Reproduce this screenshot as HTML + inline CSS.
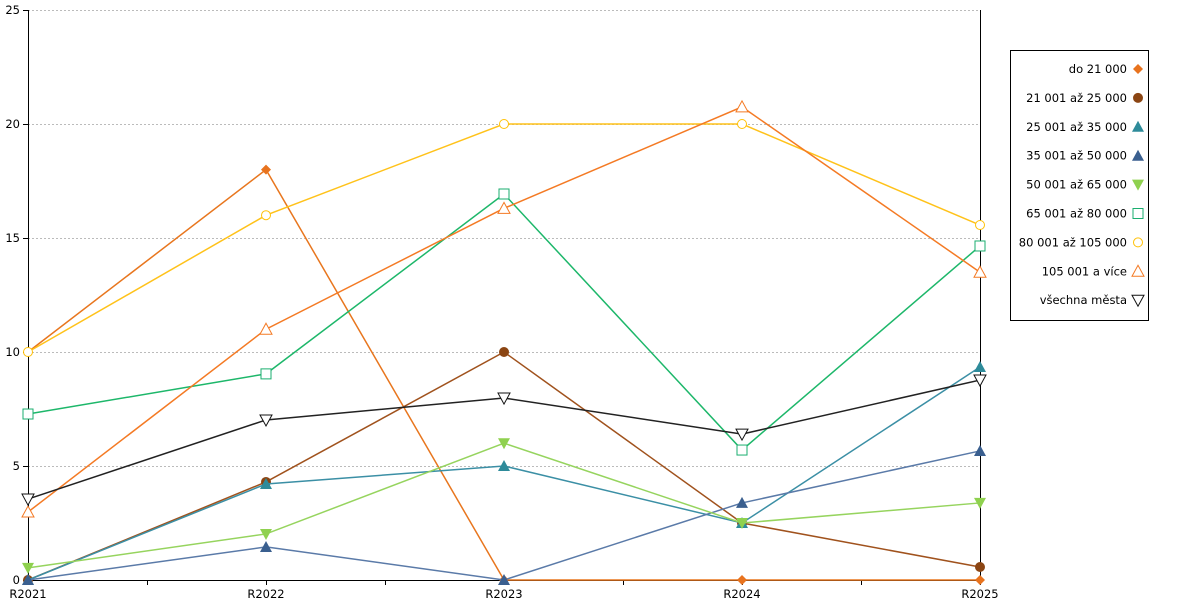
<!DOCTYPE html>
<html><head><meta charset="utf-8"><style>
body{margin:0;background:#fff;font-family:"Liberation Sans","DejaVu Sans",sans-serif;}
svg text{font-family:"DejaVu Sans","Liberation Sans",sans-serif;font-size:11.5px;fill:#000;}
</style></head><body>
<svg id="chart" width="1200" height="600"></svg>
<script>
const categories=["R2021","R2022","R2023","R2024","R2025"];
const yTicks=[0,5,10,15,20,25];
const seriesNames=["do 21 000","21 001 až 25 000","25 001 až 35 000","35 001 až 50 000","50 001 až 65 000","65 001 až 80 000","80 001 až 105 000","105 001 a více","všechna města"];
const s1=[10,18,0,0,0];
const s2=[0,4.3,10,2.5,0.57];
const s3=[0,4.21,5,2.5,9.34];
const s4=[0,1.45,0,3.38,5.66];
const s5=[0.53,2.02,6,2.5,3.38];
const s6=[7.28,9.04,16.93,5.7,14.65];
const s7=[10,16,20,20,15.57];
const s8=[2.98,11,16.3,20.75,13.5];
const s9=[3.55,7.02,7.98,6.4,8.77];
const seriesValues=[s1,s2,s3,s4,s5,s6,s7,s8,s9];
const colors=["#e8731e","#8b4513","#2e8b9a","#3a5f8f","#8fd14f","#1aae6f","#ffc107","#f47a24","#111111"];
const lineColors=["#e8761e","#a0521d","#3b8fa5","#5a7aa8","#96d45e","#1db76a","#ffc21a","#f47a24","#222222"];
const markers=["diamond","circle","tri","tri","down","square","ocircle","otri","odown"];
const NS="http://www.w3.org/2000/svg";
const svg=document.getElementById("chart");
const X0=28,X1=980,Y0=580,Y1=10;
const xs=i=>X0+(X1-X0)*i/(categories.length-1);
const ys=v=>Y0-(Y0-Y1)*v/25;
function el(t,a,p){const e=document.createElementNS(NS,t);for(const k in a)e.setAttribute(k,a[k]);(p||svg).appendChild(e);return e;}
yTicks.forEach(v=>{
 if(v>0){const g=el("line",{x1:X0,x2:X1,y1:ys(v)+0.5,y2:ys(v)+0.5,stroke:"#bbb","stroke-dasharray":"2,2"});
 
 }
 el("line",{x1:X0-5,x2:X0,y1:ys(v)+0.5,y2:ys(v)+0.5,stroke:"#000"});
 const t=el("text",{x:X0-8,y:ys(v)+4,"text-anchor":"end"});t.textContent=v;
 
 
});
el("line",{x1:X0+0.5,x2:X0+0.5,y1:Y1,y2:Y0,stroke:"#000"});
el("line",{x1:X1+0.5,x2:X1+0.5,y1:Y1,y2:Y0,stroke:"#000"});
el("line",{x1:X0,x2:X1,y1:Y0+0.5,y2:Y0+0.5,stroke:"#000"});
for(let i=0;i<=8;i++){const x=Math.round(X0+(X1-X0)*i/8)+0.5;el("line",{x1:x,x2:x,y1:Y0,y2:Y0+5,stroke:"#000"});}
categories.forEach((c,i)=>{const t=el("text",{x:xs(i),y:598,"text-anchor":"middle"});t.textContent=c;
 
 });
function marker(type,x,y,col,parent){
 let e;
 if(type=="diamond")e=el("polygon",{points:`${x},${y-5} ${x+5},${y} ${x},${y+5} ${x-5},${y}`,fill:col},parent);
 else if(type=="circle")e=el("circle",{cx:x,cy:y,r:5,fill:col},parent);
 else if(type=="ocircle")e=el("circle",{cx:x,cy:y,r:4.5,fill:"#fff",stroke:col},parent);
 else if(type=="tri")e=el("polygon",{points:`${x},${y-6} ${x+6},${y+5} ${x-6},${y+5}`,fill:col},parent);
 else if(type=="otri")e=el("polygon",{points:`${x},${y-6} ${x+6},${y+5} ${x-6},${y+5}`,fill:"#fff",stroke:col},parent);
 else if(type=="down")e=el("polygon",{points:`${x-6},${y-5} ${x+6},${y-5} ${x},${y+6}`,fill:col},parent);
 else if(type=="odown")e=el("polygon",{points:`${x-6},${y-5} ${x+6},${y-5} ${x},${y+6}`,fill:"#fff",stroke:col},parent);
 else e=el("rect",{x:x-5,y:y-5,width:10,height:10,fill:"#fff",stroke:col},parent);
 return e;
}
seriesValues.forEach((vals,si)=>{
 const g=el("g",{});
 
 
 const p=el("polyline",{points:vals.map((v,i)=>xs(i)+","+ys(v)).join(" "),fill:"none",stroke:lineColors[si],"stroke-width":1.5},g);
 
 
 vals.forEach((v,i)=>{const m=marker(markers[si],xs(i),ys(v),colors[si],g);
  
  });
});
const lg=el("g",{});


el("rect",{x:1010.5,y:50.5,width:138,height:270,fill:"#fff",stroke:"#000"},lg);
seriesNames.forEach((n,i)=>{
 const y=69+i*28.9;
 const t=el("text",{x:1127,y:y+4,"text-anchor":"end"},lg);t.textContent=n;
 
 
 marker(markers[i],1138,y,colors[i],lg);
});
</script>
</body></html>
